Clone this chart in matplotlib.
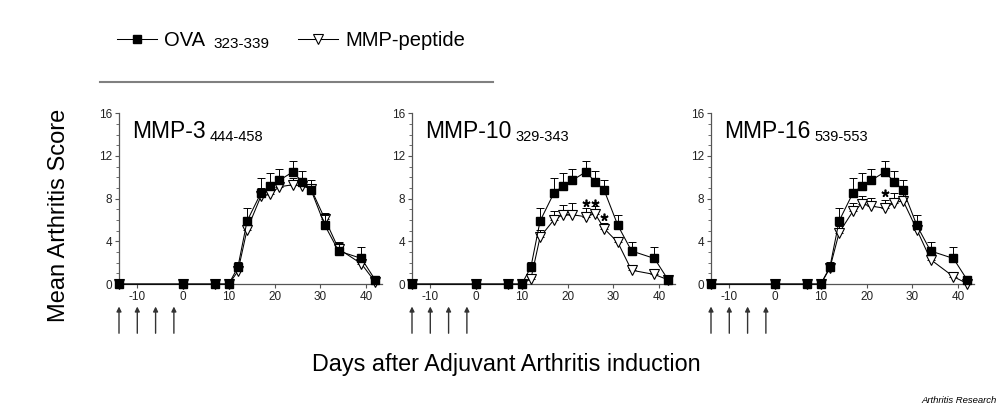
import numpy as np
import matplotlib
matplotlib.use('Agg')
import matplotlib.pyplot as plt
from matplotlib.lines import Line2D

plt.rcParams['font.family'] = ['Liberation Sans', 'DejaVu Sans']
plt.rcParams['axes.unicode_minus'] = False

days = np.array([-14, 0, 7, 10, 12, 14, 17, 19, 21, 24, 26, 28, 31, 34, 39, 42])

# control peptide (same group shown in every panel)
ova = np.array([0, 0, 0, 0, 1.6, 5.9, 8.5, 9.2, 9.7, 10.5, 9.6, 8.8, 5.5, 3.1, 2.4, 0.4])
ova_err = np.array([0, 0, 0, 0, 0.5, 1.2, 1.4, 1.2, 1.1, 1.0, 1.0, 0.9, 1.0, 0.8, 1.1, 0.2])

mmp3 = np.array([0, 0, 0, 0, 1.2, 5.1, 8.2, 8.4, 9.1, 9.3, 9.2, 8.9, 6.1, 3.3, 1.9, 0.2])
mmp3_err = np.array([0, 0, 0, 0, 0.3, 0.6, 0.8, 0.9, 0.7, 0.6, 0.6, 0.5, 0.6, 0.5, 0.4, 0.1])

mmp10 = np.array([0, 0, 0, 0, 0.5, 4.4, 6.0, 6.5, 6.5, 6.3, 6.6, 5.2, 3.9, 1.3, 0.9, 0.4])
mmp10_err = np.array([0, 0, 0, 0, 0.2, 0.7, 0.8, 0.9, 1.1, 0.8, 0.7, 0.5, 0.5, 0.2, 0.3, 0.1])

mmp16 = np.array([0, 0, 0, 0, 1.5, 4.8, 6.8, 7.5, 7.3, 7.1, 7.6, 7.8, 5.1, 2.3, 0.7, 0.05])
mmp16_err = np.array([0, 0, 0, 0, 0.3, 0.6, 0.8, 0.7, 0.8, 0.8, 0.9, 0.6, 0.5, 0.3, 0.2, 0.1])

titles = ['MMP-3', 'MMP-10', 'MMP-16']
subs = ['444-458', '329-343', '539-553']
peptides = [(mmp3, mmp3_err), (mmp10, mmp10_err), (mmp16, mmp16_err)]

# significance marks: (day, height)
stars = [[], [(24, 7.6), (26, 7.6), (28, 6.3)], [(24, 8.5)]]

# immunisation days (arrows under the axis)
arrow_days = [-14, -10, -6, -2]

fig = plt.figure(figsize=(10, 4.07), dpi=100)

lefts = [0.119, 0.412, 0.711]
handles = None
for i in range(3):
    ax = fig.add_axes([lefts[i], 0.302, 0.263, 0.42])
    pep, pep_err = peptides[i]

    m = pep_err > 0
    ax.errorbar(days[m], pep[m], yerr=[np.zeros(m.sum()), pep_err[m]], fmt='none',
                ecolor='black', elinewidth=0.7, capsize=3, capthick=0.7, clip_on=False, zorder=2)
    l2, = ax.plot(days, pep, color='black', lw=0.75, marker='v', markersize=7.5,
                  markerfacecolor='white', markeredgecolor='black', markeredgewidth=0.8,
                  clip_on=False, zorder=3)
    m = ova_err > 0
    ax.errorbar(days[m], ova[m], yerr=[np.zeros(m.sum()), ova_err[m]], fmt='none',
                ecolor='black', elinewidth=0.7, capsize=3, capthick=0.7, clip_on=False, zorder=4)
    l1, = ax.plot(days, ova, color='black', lw=0.75, marker='s', markersize=6.3,
                  markerfacecolor='black', markeredgecolor='black', clip_on=False, zorder=5)
    if handles is None:
        handles = [l1, l2]

    for sx, sy in stars[i]:
        ax.plot(sx, sy, marker=(5, 2, 0), markersize=5.5, color='black',
                markeredgewidth=1.2, zorder=6)

    for d in arrow_days:
        ax.annotate('', xy=(d, -2.1), xytext=(d, -4.6),
                    arrowprops=dict(arrowstyle='-|>', color='#333333', lw=1.0,
                                    mutation_scale=7, shrinkA=0, shrinkB=0),
                    annotation_clip=False)

    ax.set_xlim(-14, 43.5)
    ax.set_ylim(0, 16)
    ax.set_xticks([-10, 0, 10, 20, 30, 40])
    ax.set_yticks([0, 4, 8, 12, 16])
    ax.set_yticks(np.arange(0, 17, 1), minor=True)
    ax.tick_params(axis='both', which='major', labelsize=8.5, length=3, width=0.8,
                   colors='#555555', labelcolor='#222222', pad=2)
    ax.tick_params(axis='y', which='minor', length=2, width=0.6, colors='#555555')
    for s in ['top', 'right']:
        ax.spines[s].set_visible(False)
    for s in ['left', 'bottom']:
        ax.spines[s].set_color('#555555')
        ax.spines[s].set_linewidth(0.9)
    ax.patch.set_visible(False)

    t = ax.text(0.05, 0.855, titles[i], transform=ax.transAxes, fontsize=16.5,
                ha='left', va='baseline')
    ax.annotate(subs[i], xy=(1, 0), xycoords=t, xytext=(3, -1),
                textcoords='offset points', fontsize=10.5, ha='left', va='bottom')

leg = fig.legend(handles, ['OVA', 'MMP-peptide'], loc='center left',
                 bbox_to_anchor=(0.117, 1 - 41 / 407), ncol=2, frameon=False,
                 fontsize=14.5, handlelength=2.0, handletextpad=0.35,
                 columnspacing=4.6, borderpad=0, borderaxespad=0)
# place the legend first so its text can anchor the subscript
fig.canvas.draw()
ova_txt = leg.get_texts()[0]
bb = ova_txt.get_window_extent().transformed(fig.transFigure.inverted())
fig.text(bb.x1 + 0.008, bb.y0 - 0.002, '323-339', fontsize=11, ha='left', va='bottom')

fig.add_artist(Line2D([0.1, 0.493], [1 - 82 / 407] * 2, transform=fig.transFigure,
                      color='#808080', lw=1.5))

fig.text(0.059, 1 - 215 / 407, 'Mean Arthritis Score', rotation=90, ha='center',
         va='center', fontsize=17)
fig.text(0.506, 1 - 365 / 407, 'Days after Adjuvant Arthritis induction', ha='center',
         va='center', fontsize=16.8)
fig.text(0.997, 0.004, 'Arthritis Research', ha='right', va='bottom', fontsize=6.8,
         style='italic')

fig.savefig('out.png', dpi=100)
